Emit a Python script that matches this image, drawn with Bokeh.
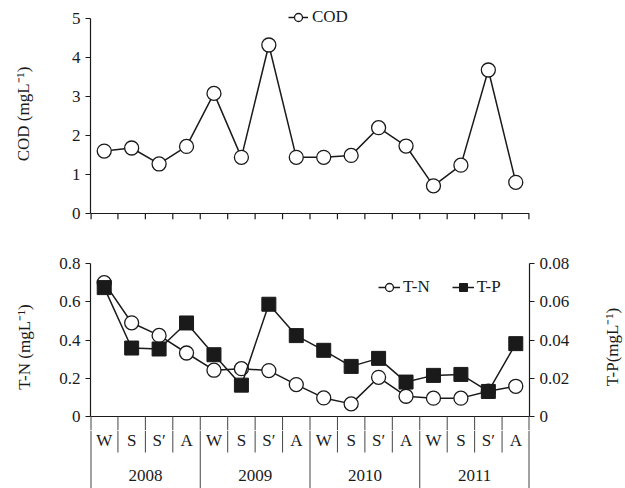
from bokeh.plotting import figure
from bokeh.layouts import column, row
from bokeh.models import Range1d, LinearAxis, FixedTicker, Legend, LegendItem
from bokeh.core.properties import value
from bokeh.embed import file_html
from bokeh.resources import INLINE
import math

# ---- data ----
seasons = ["W", "S", "S\u2032", "A"] * 4
years = ["2008", "2009", "2010", "2011"]
cod = [1.60, 1.68, 1.27, 1.72, 3.08, 1.44, 4.32, 1.44, 1.44, 1.49, 2.20, 1.73, 0.71, 1.24, 3.68, 0.80]
tn = [0.70, 0.49, 0.424, 0.332, 0.242, 0.25, 0.24, 0.167, 0.097, 0.066, 0.205, 0.106, 0.096, 0.096, 0.132, 0.158]
tp = [0.0674, 0.0358, 0.0353, 0.0489, 0.0323, 0.0164, 0.0587, 0.0423, 0.0346, 0.0262, 0.0304, 0.018, 0.0215, 0.022, 0.0131, 0.0381]
tp_label = "T-P(mgL\u207b\u00b9)"

FONT = "Liberation Serif"
INK = "#1a1a1a"
SEP = "#444444"
FS = "17px"
x = [i + 0.5 for i in range(len(cod))]
n = len(cod)


def style_axis(ax):
    ax.axis_line_color = INK
    ax.axis_line_width = 1.2
    ax.major_tick_line_color = INK
    ax.major_tick_line_width = 1.2
    ax.minor_tick_line_color = None
    ax.major_tick_in = 0
    ax.major_tick_out = 5
    ax.major_label_text_font = FONT
    ax.major_label_text_font_size = FS
    ax.major_label_text_color = INK
    ax.major_label_standoff = 5
    ax.axis_label_text_font = FONT
    ax.axis_label_text_font_size = FS
    ax.axis_label_text_font_style = "normal"
    ax.axis_label_text_color = INK


def bare(p):
    p.grid.visible = False
    p.outline_line_color = None
    p.background_fill_color = None
    p.border_fill_color = None


# ---- top panel ----
top_low = -6.0 / 39.0
top_high = 5 + 10.0 / 39.0
p1 = figure(width=625, height=234, x_range=Range1d(0, 16), y_range=Range1d(top_low, top_high),
            output_backend="svg", toolbar_location=None, x_axis_location=None,
            min_border_left=90, min_border_right=96, min_border_top=8, min_border_bottom=15)
bare(p1)
for ax in p1.yaxis:
    style_axis(ax)
p1.yaxis.ticker = FixedTicker(ticks=[0, 1, 2, 3, 4, 5])
p1.yaxis.bounds = (0, 5)
p1.yaxis.axis_label = "COD (mgL\u207b\u00b9)"
p1.yaxis.axis_label_standoff = 36

# x axis line and ticks of the top panel
p1.segment(x0=[0], y0=[0], x1=[16], y1=[0], line_color=INK, line_width=1.2)
tks = list(range(17))
p1.segment(x0=tks, y0=[0] * 17, x1=tks, y1=[top_low] * 17, line_color=INK,
           line_width=[2.4] + [1.2] * 15 + [2.4])

l1 = p1.line(x, cod, line_color=INK, line_width=1.5)
c1 = p1.scatter(x, cod, size=14, marker="circle", fill_color="white", line_color=INK, line_width=1.3)
leg1 = Legend(items=[LegendItem(label="COD", renderers=[l1, c1])], location=(198, 192),
              padding=0, margin=0, border_line_color=None, background_fill_alpha=0,
              label_text_font=FONT, label_text_font_size=FS, label_text_color=INK,
              glyph_width=20, glyph_height=20, label_standoff=4, label_height=20)
p1.add_layout(leg1)

# ---- bottom panel ----
PX = 0.8 / 153.0           # data units per pixel of the T-N scale
ylow = -14 * PX
p2 = figure(width=595, height=196, x_range=Range1d(0, 16), y_range=Range1d(ylow, 0.8),
            output_backend="svg", toolbar_location=None, x_axis_location=None,
            min_border_left=90, min_border_right=66, min_border_top=29, min_border_bottom=0)
bare(p2)
p2.extra_y_ranges = {"tp": Range1d(ylow / 10, 0.08)}
rax = LinearAxis(y_range_name="tp")
p2.add_layout(rax, "right")
for ax in p2.yaxis:
    style_axis(ax)
p2.yaxis[0].ticker = FixedTicker(ticks=[0, 0.2, 0.4, 0.6, 0.8])
p2.yaxis[0].bounds = (0, 0.8)
p2.yaxis[0].major_label_overrides = {0: "0", 0.2: "0.2", 0.4: "0.4", 0.6: "0.6", 0.8: "0.8"}
p2.yaxis[0].axis_label = "T-N (mgL\u207b\u00b9)"
p2.yaxis[0].axis_label_standoff = 22
rax.ticker = FixedTicker(ticks=[0, 0.02, 0.04, 0.06, 0.08])
rax.bounds = (0, 0.08)
rax.major_label_overrides = {0: "0", 0.02: "0.02", 0.04: "0.04", 0.06: "0.06", 0.08: "0.08"}

p2.segment(x0=[0], y0=[0], x1=[16], y1=[0], line_color=INK, line_width=1.2)
p2.segment(x0=tks, y0=[0] * 17, x1=tks, y1=[ylow] * 17, line_color=SEP,
           line_width=[2] + [1] * 15 + [2])

l2 = p2.line(x, tn, line_color=INK, line_width=1.5)
c2 = p2.scatter(x, tn, size=14, marker="circle", fill_color="white", line_color=INK, line_width=1.3)
l3 = p2.line(x, tp, line_color=INK, line_width=1.5, y_range_name="tp")
s3 = p2.scatter(x, tp, size=14, marker="square", fill_color=INK, line_color=INK, line_width=1,
                y_range_name="tp")
leg2 = Legend(items=[LegendItem(label="T-N", renderers=[l2, c2]),
                     LegendItem(label="T-P", renderers=[l3, s3])],
              location=(288, 133), orientation="horizontal", spacing=22,
              padding=0, margin=0, border_line_color=None, background_fill_alpha=0,
              label_text_font=FONT, label_text_font_size=FS, label_text_color=INK,
              glyph_width=22, glyph_height=20, label_standoff=3, label_height=20)
p2.add_layout(leg2)

# right-hand axis title of the bottom panel, in its own narrow strip
p3 = figure(width=30, height=196, x_range=Range1d(0, 30), y_range=Range1d(0, 196),
            output_backend="svg", toolbar_location=None, x_axis_location=None,
            y_axis_location=None, min_border=0)
bare(p3)
p3.text(x=[17], y=[98], text=[tp_label], angle=math.pi / 2, text_font=value(FONT),
        text_font_size=FS, text_align="center", text_baseline="middle", text_color=INK)

# ---- season / year table under the bottom panel ----
p4 = figure(width=625, height=58, x_range=Range1d(0, 16), y_range=Range1d(-58, 0),
            output_backend="svg", toolbar_location=None, x_axis_location=None,
            y_axis_location=None, min_border_left=90, min_border_right=96,
            min_border_top=0, min_border_bottom=0)
bare(p4)
short = [i for i in range(1, 16) if i % 4 != 0]
p4.segment(x0=short, y0=[0] * len(short), x1=short, y1=[-22] * len(short),
           line_color=SEP, line_width=1)
longs = [0, 4, 8, 12, 16]
p4.segment(x0=longs, y0=[0] * 5, x1=longs, y1=[-58] * 5,
           line_color=SEP, line_width=[2, 1, 1, 1, 2])
p4.text(x=x, y=[-10] * n, text=seasons, text_font=value(FONT), text_font_size=FS,
        text_align="center", text_baseline="middle", text_color=INK)
p4.text(x=[2, 6, 10, 14], y=[-45] * 4, text=years, text_font=value(FONT), text_font_size=FS,
        text_align="center", text_baseline="middle", text_color=INK)

layout = column(p1, row(p2, p3, spacing=0), p4, spacing=0)
open("out.html", "w").write(file_html(layout, INLINE))
